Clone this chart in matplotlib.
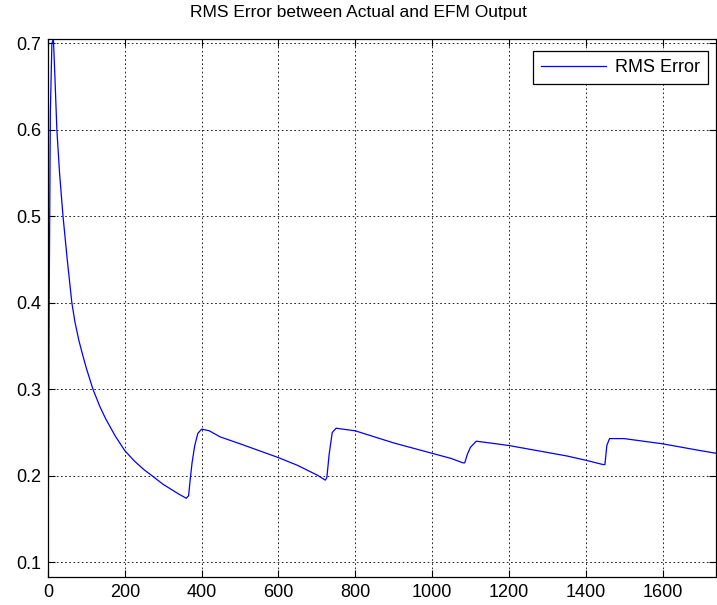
import matplotlib
matplotlib.use("Agg")
import matplotlib.pyplot as plt

plt.rcParams['font.family'] = ['Liberation Sans', 'DejaVu Sans']

# RMS error trace, sampled by iteration
iters = [0, 3, 6, 10, 14, 18, 23, 30, 39, 50, 62, 70, 80, 90, 100, 117, 135,
         150, 175, 200, 225, 250, 271, 300, 340, 360, 366, 370, 375, 382,
         390, 400, 420, 448, 500, 550, 600, 650, 700, 722, 726, 732, 740,
         750, 800, 850, 900, 950, 1000, 1050, 1080, 1085, 1092, 1100, 1115,
         1150, 1200, 1250, 1300, 1350, 1400, 1445, 1450, 1455, 1462, 1500,
         1550, 1600, 1650, 1700, 1740]
rms = [0.083, 0.40, 0.62, 0.70, 0.705, 0.66, 0.60, 0.55, 0.50, 0.45, 0.40,
       0.378, 0.357, 0.340, 0.324, 0.300, 0.280, 0.266, 0.246, 0.229, 0.217,
       0.207, 0.200, 0.190, 0.179, 0.174, 0.177, 0.195, 0.215, 0.235, 0.249,
       0.254, 0.252, 0.245, 0.237, 0.229, 0.221, 0.212, 0.201, 0.195, 0.198,
       0.225, 0.250, 0.255, 0.252, 0.245, 0.238, 0.232, 0.226, 0.220, 0.215,
       0.215, 0.225, 0.233, 0.240, 0.238, 0.235, 0.231, 0.227, 0.223, 0.218,
       0.213, 0.213, 0.235, 0.243, 0.243, 0.240, 0.237, 0.233, 0.229, 0.226]

xticks = [0, 200, 400, 600, 800, 1000, 1200, 1400, 1600]
yticks = [0.1, 0.2, 0.3, 0.4, 0.5, 0.6, 0.7]

fig = plt.figure(figsize=(7.17, 6.05), dpi=100)
ax = fig.add_axes([0.067, 0.0463, 0.932, 0.8892])

ax.plot(iters, rms, color=(0, 0, 1), lw=0.9, label='RMS Error')

ax.set_xlim(0, 1740)
ax.set_ylim(0.083, 0.705)
ax.set_xticks(xticks)
ax.set_yticks(yticks)
ax.set_yticklabels([f'{v:g}' for v in yticks])
ax.tick_params(direction='in', top=True, right=True, labelsize=13, length=5,
               width=0.8, pad=5)
ax.grid(True, color='black', linestyle=(0, (2, 3)), lw=0.6)
for s in ax.spines.values():
    s.set_linewidth(0.9)

fig.text(0.5, 0.98, 'RMS Error between Actual and EFM Output', fontsize=12.5,
         ha='center', va='center')

leg = ax.legend(loc='upper right', fontsize=13, fancybox=False, framealpha=1,
                edgecolor='black', handlelength=3.6, handletextpad=0.5,
                borderpad=0.45, borderaxespad=0,
                bbox_to_anchor=(0.988, 0.978))
leg.get_frame().set_linewidth(0.9)

fig.savefig('out.png', dpi=100)
